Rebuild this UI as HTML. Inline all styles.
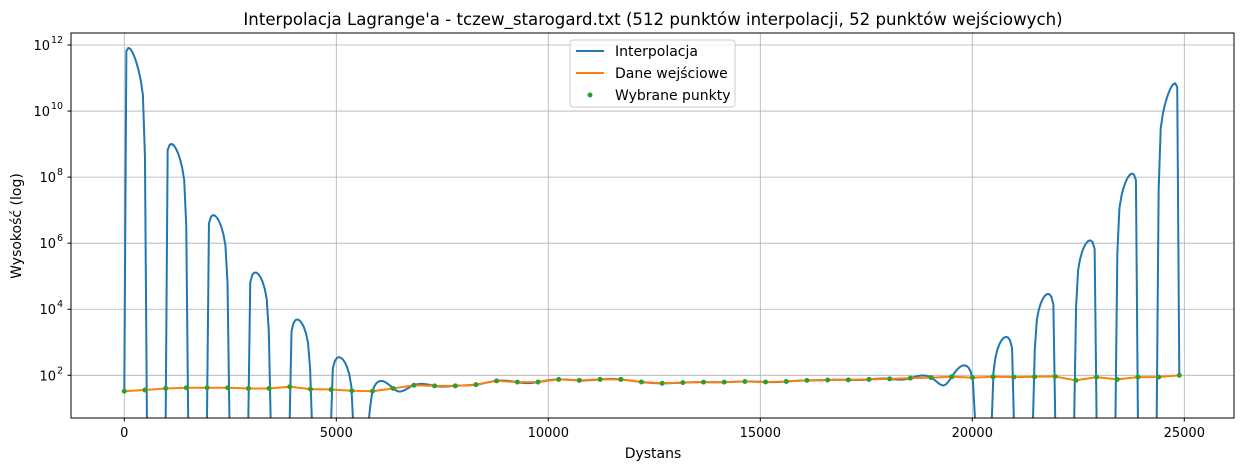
<!DOCTYPE html>
<html><head><meta charset="utf-8"><style>
body{margin:0;background:#fff;}
svg{display:block;font-family:"DejaVu Sans","Liberation Sans",sans-serif;}
</style></head><body>
<svg id="chart" width="1243" height="471" xmlns="http://www.w3.org/2000/svg">
<rect width="1243" height="471" fill="#fff"/>
<text x="653" y="25" text-anchor="middle" font-size="16.6">Interpolacja Lagrange'a - tczew_starogard.txt (512 punktów interpolacji, 52 punktów wejściowych)</text>
<g id="grid"></g>
<g id="ticks"></g>
<defs><clipPath id="clip"><rect x="71" y="33" width="1163" height="385"/></clipPath></defs>
<g id="series" clip-path="url(#clip)"></g>
<rect x="71" y="33" width="1163" height="385" fill="none" stroke="#000" stroke-width="1"/>
<text x="653" y="458" text-anchor="middle" font-size="14">Dystans</text>
<text transform="translate(21,226) rotate(-90)" text-anchor="middle" font-size="14">Wysokość (log)</text>
<g>
<rect x="570" y="40" width="165" height="67" rx="3" fill="#fff" fill-opacity="0.8" stroke="#ccc"/>
<line x1="576" y1="51" x2="604" y2="51" stroke="#1f77b4" stroke-width="2"/>
<text x="615" y="56" font-size="14">Interpolacja</text>
<line x1="576" y1="73" x2="604" y2="73" stroke="#ff7f0e" stroke-width="2"/>
<text x="615" y="78" font-size="14">Dane wejściowe</text>
<circle cx="590" cy="95" r="2.5" fill="#2ca02c"/>
<text x="615" y="100" font-size="14">Wybrane punkty</text>
</g>
</svg>
<script>
const xMax = 24882;
const heights = [33,36,40,42,42,42,40,40,45,38,37,34,33,40,50,48,48,52,68,62,62.45,75,70,75,75,62.75,57.25,60,62,62,65,62.65,65,70,72,73,75,78,82,85,90,85,90,88,90,92,70,88,75,88,88,100];
const xTicks = [0,5000,10000,15000,20000,25000];
const yTickExps = [2,4,6,8,10,12];
const nInterp = 512;

const NS="http://www.w3.org/2000/svg";
const X0=124.3, PX=212/5000;
const yBase=375.3, PD=33.03;
function sx(v){return X0+v*PX;}
function sy(v){return yBase-(Math.log10(v)-2)*PD;}
function mk(tag,attrs,parent){const e=document.createElementNS(NS,tag);for(const k in attrs)e.setAttribute(k,attrs[k]);parent.appendChild(e);return e;}
const grid=document.getElementById('grid'),ticks=document.getElementById('ticks'),ser=document.getElementById('series');
xTicks.forEach(t=>{
  const x=sx(t);
  const g=mk('line',{x1:x,x2:x,y1:33,y2:418,stroke:'#b0b0b0','stroke-width':0.8},grid);
  
  
  mk('line',{x1:x,x2:x,y1:418,y2:421.5,stroke:'#000'},ticks);
  const tx=mk('text',{x:x,y:437,'text-anchor':'middle','font-size':13},ticks);
  tx.textContent=t;
  
  
});
yTickExps.forEach(e=>{
  const y=sy(Math.pow(10,e));
  const g=mk('line',{x1:71,x2:1234,y1:y,y2:y,stroke:'#b0b0b0','stroke-width':0.8},grid);
  
  
  mk('line',{x1:67.5,x2:71,y1:y,y2:y,stroke:'#000'},ticks);
  const tx=mk('text',{x:e>=10?50:56,y:y+5,'text-anchor':'end','font-size':13},ticks);
  tx.textContent='10';
  
  
  const sp=mk('text',{x:e>=10?51:57,y:y-2,'font-size':9.5},ticks);
  sp.textContent=e;
  
  
});
const n=heights.length, d=xMax/(n-1);
const xs=heights.map((_,i)=>i*d);
const w=[];let c=1;
for(let j=0;j<n;j++){ if(j>0)c=c*(n-j)/j; w.push((j%2?-1:1)*c); }
function lag(x){
  let num=0,den=0;
  for(let j=0;j<n;j++){const dx=x-xs[j]; if(Math.abs(dx)<1e-9)return heights[j]; const t=w[j]/dx; num+=t*heights[j]; den+=t;}
  return num/den;
}
let p='';
for(let i=0;i<nInterp;i++){
  const x=i*xMax/(nInterp-1); const v=lag(x);
  const y=v>0?sy(v):430;
  p+=(i?'L':'M')+sx(x).toFixed(2)+','+Math.min(y,430).toFixed(2);
}
const bl=mk('path',{d:p,fill:'none',stroke:'#1f77b4','stroke-width':2,'stroke-linejoin':'round'},ser);


let op='';
heights.forEach((h,i)=>{op+=(i?'L':'M')+sx(xs[i]).toFixed(2)+','+sy(h).toFixed(2);});
const ol=mk('path',{d:op,fill:'none',stroke:'#ff7f0e','stroke-width':2},ser);


heights.forEach((h,i)=>{
  const pt=mk('circle',{cx:sx(xs[i]),cy:sy(h),r:2.5,fill:'#2ca02c'},ser);
  
  
});
</script>
</body></html>
